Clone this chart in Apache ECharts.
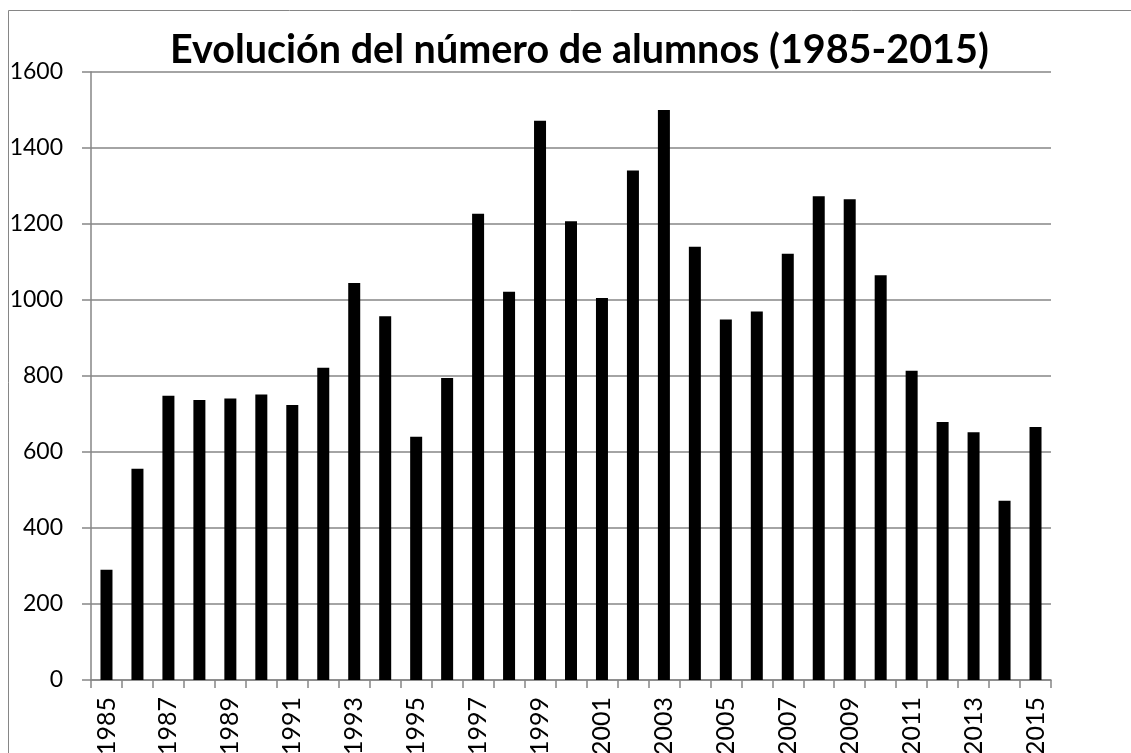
<!DOCTYPE html>
<html>
<head>
<meta charset="utf-8">
<title>Evolución del número de alumnos</title>
<script src="https://cdn.jsdelivr.net/npm/echarts@6/dist/echarts.min.js"></script>
<style>
  html, body { margin: 0; padding: 0; background: #fff; }
  #mychart { width: 1131px; height: 753px; }
</style>
</head>
<body>
<div id="mychart"></div>
<script>
// años del eje x
const years = ['1985', '1986', '1987', '1988', '1989', '1990', '1991', '1992', '1993', '1994',
  '1995', '1996', '1997', '1998', '1999', '2000', '2001', '2002', '2003', '2004',
  '2005', '2006', '2007', '2008', '2009', '2010', '2011', '2012', '2013', '2014', '2015']
// número de alumnos por año
const alumnos = [290, 556, 748, 737, 741, 751, 724, 822, 1045, 957,
  640, 795, 1227, 1022, 1472, 1207, 1005, 1341, 1500, 1140,
  949, 970, 1122, 1273, 1265, 1065, 814, 679, 652, 472, 666]
const yTicks = { min: 0, max: 1600, interval: 200 }

const gray = '#868686'
const font = 'Lato, "Open Sans", sans-serif'

const myChart = echarts.init(document.getElementById('mychart'))
const option = {
  backgroundColor: '#ffffff',
  animation: false,
  title: {
    text: 'Evolución del número de alumnos (1985-2015)',
    left: 165,
    top: 25,
    textStyle: {
      color: '#000',
      fontFamily: font,
      fontWeight: 'bold',
      fontSize: 39.5
    }
  },
  graphic: [{
    // marco exterior del gráfico
    type: 'rect',
    silent: true,
    shape: { x: 8.5, y: 10.5, width: 1200, height: 800 },
    style: { fill: 'none', stroke: gray, lineWidth: 1 }
  }],
  grid: {
    left: 91,
    right: 80,
    top: 72,
    bottom: 73,
    containLabel: false,
    outerBoundsMode: 'none'
  },
  xAxis: {
    type: 'category',
    data: years,
    boundaryGap: true,
    axisLine: { lineStyle: { color: gray, width: 1.5 } },
    axisTick: {
      show: true,
      interval: 0,
      length: 8,
      lineStyle: { color: gray, width: 1.5 }
    },
    axisLabel: {
      interval: 1,
      rotate: 90,
      margin: 17,
      color: '#000',
      fontFamily: font,
      fontSize: 25
    }
  },
  yAxis: {
    type: 'value',
    min: yTicks.min,
    max: yTicks.max,
    interval: yTicks.interval,
    axisLine: { show: true, lineStyle: { color: gray, width: 1.5 } },
    axisTick: { show: true, length: 9, lineStyle: { color: gray, width: 1.5 } },
    splitLine: { show: true, lineStyle: { color: gray, width: 1.5 } },
    axisLabel: {
      margin: 28,
      color: '#000',
      fontFamily: font,
      fontSize: 23,
      formatter: function(v) {
        return String(v)
      }
    }
  },
  series: [{
    name: 'Alumnos',
    type: 'bar',
    data: alumnos,
    barWidth: 12,
    itemStyle: { color: '#000' }
  }]
}
myChart.setOption(option)
</script>
</body>
</html>
